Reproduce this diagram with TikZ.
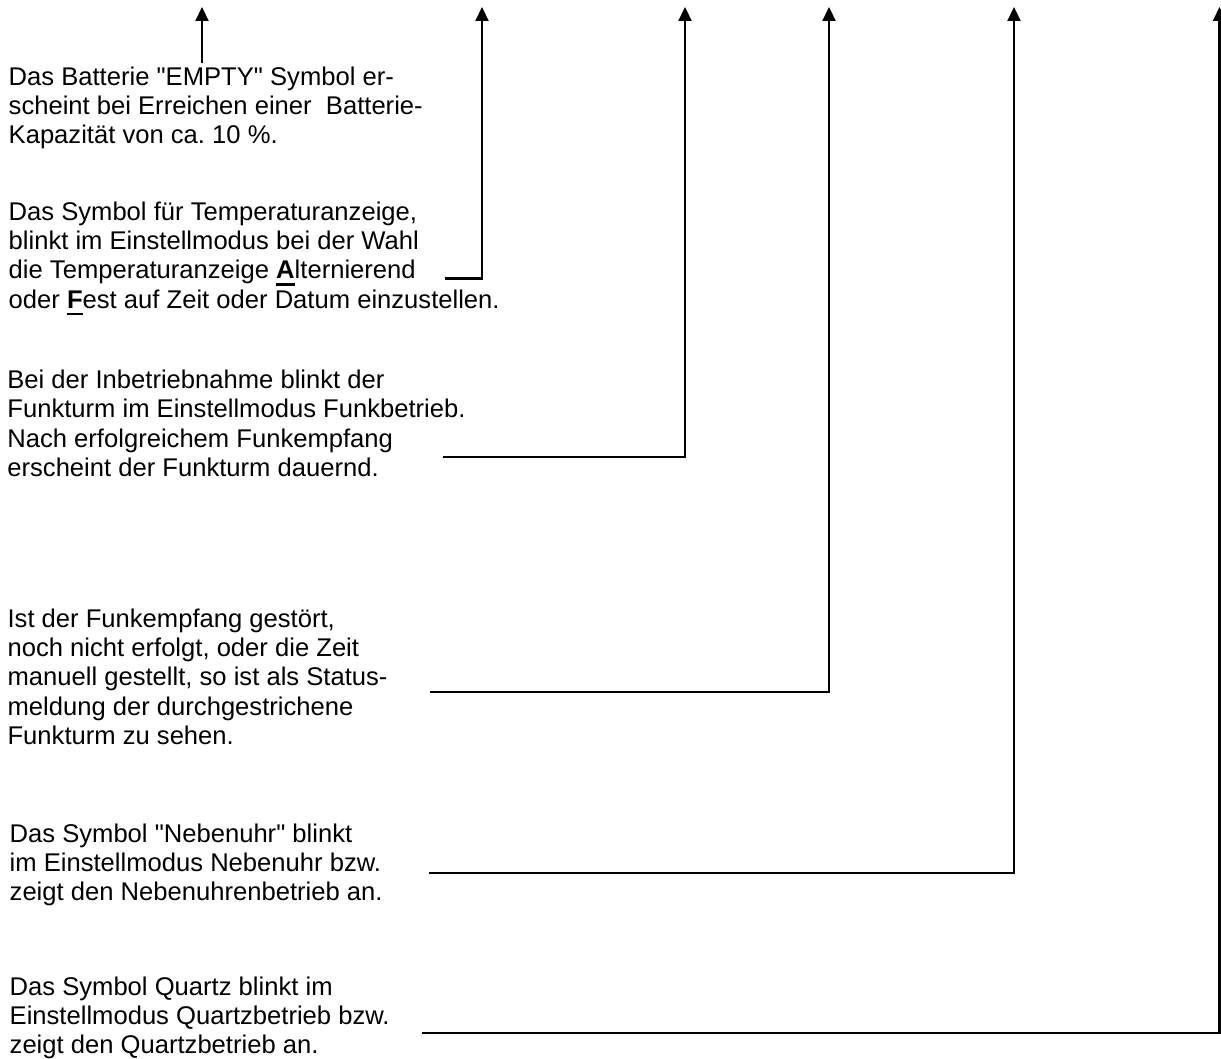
\documentclass[tikz,border=0pt]{standalone}
\usepackage{fontspec}
\setmainfont{Liberation Sans}
\usetikzlibrary{arrows.meta}
\newcommand\ulb[1]{\setbox0=\hbox{\bfseries #1}\rlap{\kern-0.5pt\rule[-6.8pt]{\dimexpr\wd0+1pt\relax}{2.3pt}}\box0}
\newcommand\qq{\XeTeXglyph\XeTeXcharglyph"22\relax}
\frenchspacing
\begin{document}
\begin{tikzpicture}[x=1pt,y={(0pt,-1pt)},
  txt/.style={anchor=base west, inner sep=0pt, outer sep=0pt, align=left,
    font=\fontsize{25.6}{29.4}\selectfont},
  conn/.style={line width=2.2pt, -{Triangle[length=14pt,width=13pt]}}]
\useasboundingbox (0,0) rectangle (1221,1059);
\fill[white] (0,0) rectangle (1221,1059);

% anchors are at the baseline of the last line of each block
\node[txt] (t1) at (8.7,144) {Das Batterie \qq EMPTY\qq{} Symbol er-\\scheint bei Erreichen einer\ \ Batterie-\\Kapazität von ca. 10 \%.};
\node[txt] (t2) at (8.7,308.2) {Das Symbol für Temperaturanzeige,\\blinkt im Einstellmodus bei der Wahl\\die Temperaturanzeige \ulb{A}lternierend\\oder \ulb{F}est auf Zeit oder Datum einzustellen.};
\node[txt] (t3) at (7.4,476.5) {Bei der Inbetriebnahme blinkt der\\Funkturm im Einstellmodus Funkbetrieb.\\Nach erfolgreichem Funkempfang\\erscheint der Funkturm dauernd.};
\node[txt] (t4) at (7.6,744.6) {Ist der Funkempfang gestört,\\noch nicht erfolgt, oder die Zeit\\manuell gestellt, so ist als Status-\\meldung der durchgestrichene\\Funkturm zu sehen.};
\node[txt] (t5) at (9.7,900.8) {Das Symbol \qq Nebenuhr\qq{} blinkt\\im Einstellmodus Nebenuhr bzw.\\zeigt den Nebenuhrenbetrieb an.};
\node[txt] (t6) at (9.7,1053.8) {Das Symbol Quartz blinkt im\\Einstellmodus Quartzbetrieb bzw.\\zeigt den Quartzbetrieb an.};

\coordinate (a1s) at (202,63);   \coordinate (a1t) at (202,7);
\coordinate (c2) at (445,278.5); \coordinate (a2t) at (482,7);
\coordinate (c3) at (443,457);   \coordinate (a3t) at (685,7);
\coordinate (c4) at (430,692);   \coordinate (a4t) at (829,7);
\coordinate (c5) at (429,873);   \coordinate (a5t) at (1014,7);
\coordinate (c6) at (422,1033);  \coordinate (a6t) at (1219.5,7);

\draw[conn] (a1s) -- (a1t);
\draw[conn] (c2) -| (a2t);
\draw[conn] (c3) -| (a3t);
\draw[conn] (c4) -| (a4t);
\draw[conn] (c5) -| (a5t);
\draw[conn] (c6) -| (a6t);
\end{tikzpicture}
\end{document}
